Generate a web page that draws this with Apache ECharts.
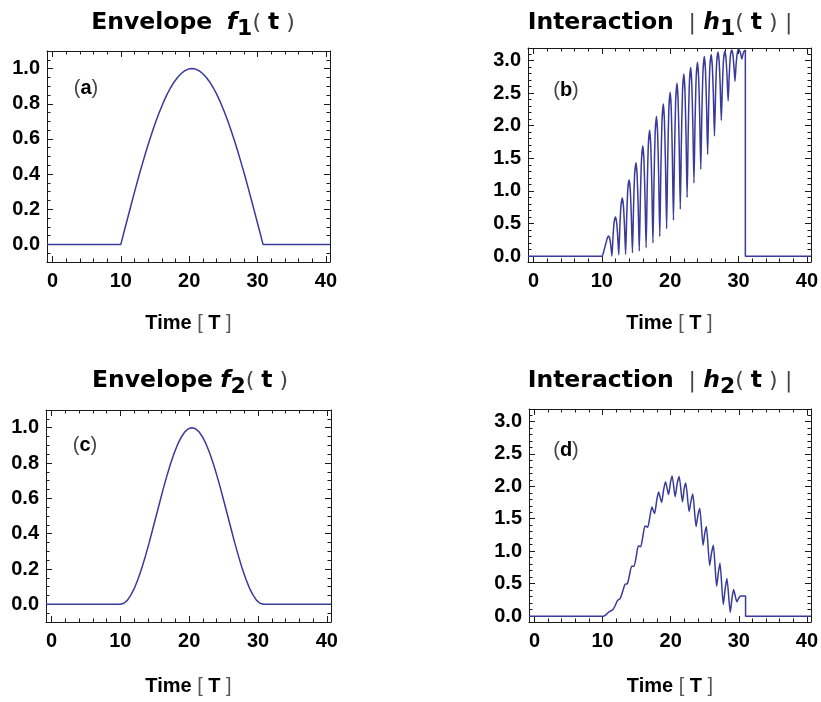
<!DOCTYPE html>
<html><head><meta charset="utf-8">
<script src="https://cdn.jsdelivr.net/npm/echarts@6/dist/echarts.min.js"></script>
<style>html,body{margin:0;padding:0;background:#fff;}#c{width:821px;height:702px;}</style>
</head><body><div id="c"></div>
<script>
// ---------------- data ----------------
const envTime = [-0.8,10,10.52,11.04,11.56,12.08,12.6,13.12,13.64,14.16,14.68,15.2,15.72,16.24,16.76,17.28,17.8,18.32,18.84,19.36,19.88,20.4,20.92,21.44,21.96,22.48,23,23.52,24.04,24.56,25.08,25.6,26.12,26.64,27.16,27.68,28.2,28.72,29.24,29.76,30.28,30.8,40.6];
const f1 = [0,0,0.079,0.156,0.233,0.309,0.383,0.454,0.523,0.588,0.649,0.707,0.760,0.809,0.853,0.891,0.924,0.951,0.972,0.988,0.997,1.000,0.997,0.988,0.972,0.951,0.924,0.891,0.853,0.809,0.760,0.707,0.649,0.588,0.523,0.454,0.383,0.309,0.233,0.156,0.079,0,0];
const f2 = [0,0,0.006,0.024,0.055,0.095,0.146,0.206,0.273,0.345,0.422,0.500,0.578,0.655,0.727,0.794,0.854,0.905,0.946,0.976,0.994,1.000,0.994,0.976,0.946,0.905,0.854,0.794,0.727,0.655,0.578,0.500,0.422,0.345,0.273,0.206,0.146,0.095,0.055,0.024,0.006,0,0];

const h1Time = [-0.8,10,10.3,10.6,10.85,
 11,11.16,11.32,11.48,11.64,11.8,
 12,12.16,12.32,12.48,12.64,12.8,
 13,13.16,13.32,13.48,13.64,13.8,
 14,14.16,14.32,14.48,14.64,14.8,
 15,15.16,15.32,15.48,15.64,15.8,
 16,16.16,16.32,16.48,16.64,16.8,
 17,17.16,17.32,17.48,17.64,17.8,
 18,18.16,18.32,18.48,18.64,18.8,
 19,19.16,19.32,19.48,19.64,19.8,
 20,20.16,20.32,20.48,20.64,20.8,
 21,21.16,21.32,21.48,21.64,21.8,
 22,22.16,22.32,22.48,22.64,22.8,
 23,23.16,23.32,23.48,23.64,23.8,
 24,24.16,24.32,24.48,24.64,24.8,
 25,25.16,25.32,25.48,25.64,25.8,
 26,26.16,26.32,26.48,26.64,26.8,
 27,27.16,27.32,27.48,27.64,27.8,
 28,28.16,28.32,28.48,28.64,28.8,
 29,29.16,29.32,29.48,29.64,29.8,
 30,30.16,30.32,30.48,30.64,30.8,
 31,31,40.6];
const h1 = [0,0,0.08,0.20,0.29,
 0.31,0.27,0.16,0.00,0.30,0.52,
 0.60,0.52,0.31,0.02,0.46,0.77,
 0.89,0.77,0.46,0.03,0.60,1.02,
 1.17,1.02,0.61,0.05,0.74,1.25,
 1.43,1.25,0.76,0.08,0.89,1.47,
 1.69,1.48,0.91,0.13,1.03,1.69,
 1.93,1.70,1.07,0.20,1.17,1.88,
 2.14,1.89,1.22,0.30,1.32,2.06,
 2.33,2.07,1.38,0.42,1.47,2.23,
 2.51,2.25,1.53,0.55,1.60,2.37,
 2.65,2.39,1.69,0.72,1.76,2.51,
 2.79,2.54,1.85,0.90,1.90,2.62,
 2.89,2.65,2.01,1.12,2.05,2.72,
 2.97,2.75,2.15,1.33,2.20,2.83,
 3.06,2.86,2.31,1.56,2.33,2.89,
 3.09,2.92,2.47,1.84,2.49,2.96,
 3.13,2.99,2.61,2.08,2.61,3.00,
 3.14,3.04,2.76,2.38,2.77,3.06,
 3.16,3.10,2.92,2.68,2.93,3.10,
 3.17,3.15,3.10,3.02,3.09,3.14,
 3.16,0,0];

const h2Time = [-0.8,10.14,10.5,10.87,11.2,11.5,11.85,12.18,12.57,12.95,13.3,13.65,13.95,14.28,14.62,14.95,15.25,15.6,15.92,16.23,16.62,16.95,17.25,17.64,17.95,18.23,18.67,18.97,19.25,19.69,19.97,20.22,20.66,20.97,21.25,21.73,22.0,22.22,22.71,23.0,23.25,23.73,24.0,24.27,24.76,25.0,25.24,25.73,26.0,26.27,26.75,27.0,27.24,27.73,28.0,28.26,28.75,29.0,29.24,29.73,30.0,30.31,31.0,31.0,40.6];
const h2 = [0,0,0.02,0.06,0.08,0.10,0.16,0.24,0.27,0.38,0.49,0.50,0.63,0.77,0.77,0.92,1.08,1.07,1.23,1.39,1.37,1.53,1.68,1.58,1.78,1.91,1.75,1.95,2.07,1.87,2.06,2.16,1.84,2.05,2.15,1.76,1.97,2.05,1.61,1.78,1.88,1.38,1.55,1.66,1.09,1.27,1.38,0.78,0.97,1.09,0.46,0.67,0.82,0.18,0.42,0.58,0.06,0.27,0.41,0.22,0.28,0.31,0.31,0,0];

// tick values
const xMajor = [0,10,20,30,40];
const xMinor = [2,4,6,8,12,14,16,18,22,24,26,28,32,34,36,38];
const yEnvMajor = [0,0.2,0.4,0.6,0.8,1.0];
const yEnvMinor = [-0.05,0.05,0.1,0.15,0.25,0.3,0.35,0.45,0.5,0.55,0.65,0.7,0.75,0.85,0.9,0.95,1.05];
const yIntMajor = [0,0.5,1.0,1.5,2.0,2.5,3.0];
const yIntMinor = [0.1,0.2,0.3,0.4,0.6,0.7,0.8,0.9,1.1,1.2,1.3,1.4,1.6,1.7,1.8,1.9,2.1,2.2,2.3,2.4,2.6,2.7,2.8,2.9,3.1];

// ---------------- layout/style ----------------
const X_MIN = -0.8, X_MAX = 40.6;
const ENV_RANGE = [-0.1, 1.1];
const INT_RANGE = [-0.09, 3.19];
const FRAME = '#1a1a1a';
const LINE = '#3a3a9a';
const SANS = '"Liberation Sans", Arial, sans-serif';
const DJ = '"DejaVu Sans", sans-serif';
const LBL = {fontFamily: SANS, fontWeight: 'bold', fontSize: 20, color: '#000'};

const grids = [
  {left: 47, top: 51, width: 283, height: 211},
  {left: 528, top: 48, width: 285, height: 214},
  {left: 46, top: 410, width: 285, height: 212},
  {left: 529, top: 409, width: 284, height: 213}
];

function xAxesFor(g, nameGap) {
  const base = {type: 'value', gridIndex: g, min: X_MIN, max: X_MAX, splitLine: {show: false}};
  const line = {show: true, onZero: false, lineStyle: {color: FRAME, width: 1}};
  const noLine = {show: false, onZero: false};
  return [
    Object.assign({}, base, {position: 'bottom', axisLine: line,
      axisTick: {show: true, inside: true, length: 6, customValues: xMajor, lineStyle: {color: FRAME}},
      axisLabel: Object.assign({show: true, customValues: xMajor, margin: 9}, LBL),
      name: '{b|Time}{p| [ }{b|T}{p| ]}', nameLocation: 'middle', nameGap: nameGap,
      nameTextStyle: {rich: {
        b: {fontFamily: SANS, fontWeight: 'bold', fontSize: 20, color: '#000'},
        p: {fontFamily: SANS, fontWeight: 'normal', fontSize: 20, color: '#555'}
      }}}),
    Object.assign({}, base, {position: 'bottom', axisLine: noLine,
      axisTick: {show: true, inside: true, length: 3.5, customValues: xMinor, lineStyle: {color: FRAME}},
      axisLabel: {show: false}}),
    Object.assign({}, base, {position: 'top', axisLine: line,
      axisTick: {show: true, inside: true, length: 6, customValues: xMajor, lineStyle: {color: FRAME}},
      axisLabel: {show: false}}),
    Object.assign({}, base, {position: 'top', axisLine: noLine,
      axisTick: {show: true, inside: true, length: 3.5, customValues: xMinor, lineStyle: {color: FRAME}},
      axisLabel: {show: false}})
  ];
}
function yAxesFor(g, range, major, minor) {
  const base = {type: 'value', gridIndex: g, min: range[0], max: range[1], splitLine: {show: false}};
  const line = {show: true, onZero: false, lineStyle: {color: FRAME, width: 1}};
  const noLine = {show: false, onZero: false};
  return [
    Object.assign({}, base, {position: 'left', axisLine: line,
      axisTick: {show: true, inside: true, length: 6, customValues: major, lineStyle: {color: FRAME}},
      axisLabel: Object.assign({show: true, customValues: major, margin: 7,
        formatter: v => Number(v).toFixed(1)}, LBL)}),
    Object.assign({}, base, {position: 'left', axisLine: noLine,
      axisTick: {show: true, inside: true, length: 3.5, customValues: minor, lineStyle: {color: FRAME}},
      axisLabel: {show: false}}),
    Object.assign({}, base, {position: 'right', axisLine: line,
      axisTick: {show: true, inside: true, length: 6, customValues: major, lineStyle: {color: FRAME}},
      axisLabel: {show: false}}),
    Object.assign({}, base, {position: 'right', axisLine: noLine,
      axisTick: {show: true, inside: true, length: 3.5, customValues: minor, lineStyle: {color: FRAME}},
      axisLabel: {show: false}})
  ];
}

const xAxis = [].concat(xAxesFor(0, 51), xAxesFor(1, 51), xAxesFor(2, 54), xAxesFor(3, 54));
const yAxis = [].concat(
  yAxesFor(0, ENV_RANGE, yEnvMajor, yEnvMinor),
  yAxesFor(1, INT_RANGE, yIntMajor, yIntMinor),
  yAxesFor(2, ENV_RANGE, yEnvMajor, yEnvMinor),
  yAxesFor(3, INT_RANGE, yIntMajor, yIntMinor));

function pairs(t, v) { return t.map((x, i) => [x, v[i]]); }
function lineSeries(g, t, v, smooth) {
  return {type: 'line', xAxisIndex: g * 4, yAxisIndex: g * 4, data: pairs(t, v),
    showSymbol: false, symbol: 'none', smooth: smooth, clip: true, animation: false,
    lineStyle: {color: LINE, width: 1.5}};
}

// title texts
const TR = {
  b: {fontFamily: DJ, fontWeight: 'bold', fontSize: 23.5, lineHeight: 34, fill: '#000'},
  fi: {fontFamily: DJ, fontWeight: 'bold', fontStyle: 'italic', fontSize: 23.5, lineHeight: 34, fill: '#000'},
  sub: {fontFamily: DJ, fontWeight: 'bold', fontSize: 22, lineHeight: 16, verticalAlign: 'bottom', fill: '#000'},
  p: {fontFamily: DJ, fontWeight: 'normal', fontSize: 22, lineHeight: 34, fill: '#444'},
  s: {fontFamily: DJ, fontWeight: 'normal', fontSize: 23, lineHeight: 34, fill: '#000'}
};
const LR = {
  b: {fontFamily: SANS, fontWeight: 'bold', fontSize: 20, fill: '#000'},
  p: {fontFamily: SANS, fontWeight: 'normal', fontSize: 20, fill: '#444'}
};
function txt(text, x, y, rich) {
  return {type: 'text', silent: true, z: 100,
    style: {text: text, x: x, y: y, align: 'center', verticalAlign: 'middle', rich: rich}};
}

const option = {
  animation: false,
  backgroundColor: '#fff',
  grid: grids.map(g => Object.assign({containLabel: false}, g)),
  xAxis: xAxis,
  yAxis: yAxis,
  series: [
    lineSeries(0, envTime, f1, false),
    lineSeries(1, h1Time, h1, 0.2),
    lineSeries(2, envTime, f2, false),
    lineSeries(3, h2Time, h2, 0.2)
  ],
  graphic: [
    txt('{b|Envelope}{s|  }{fi|f}{sub|1}{p|( }{b|t}{p| )}', 193, 23, TR),
    txt('{b|Interaction}{s|  }{p||}{s| }{fi|h}{sub|1}{p|( }{b|t}{p| )}{s| }{p||}', 660, 23, TR),
    txt('{b|Envelope}{s| }{fi|f}{sub|2}{p|( }{b|t}{p| )}', 190, 381, TR),
    txt('{b|Interaction}{s|  }{p||}{s| }{fi|h}{sub|2}{p|( }{b|t}{p| )}{s| }{p||}', 660, 381, TR),
    txt('{p|(}{b|a}{p|)}', 86, 88, LR),
    txt('{p|(}{b|b}{p|)}', 566, 90, LR),
    txt('{p|(}{b|c}{p|)}', 85, 445, LR),
    txt('{p|(}{b|d}{p|)}', 566, 450, LR)
  ]
};
const chart = echarts.init(document.getElementById('c'));
chart.setOption(option);
</script>
</body></html>
